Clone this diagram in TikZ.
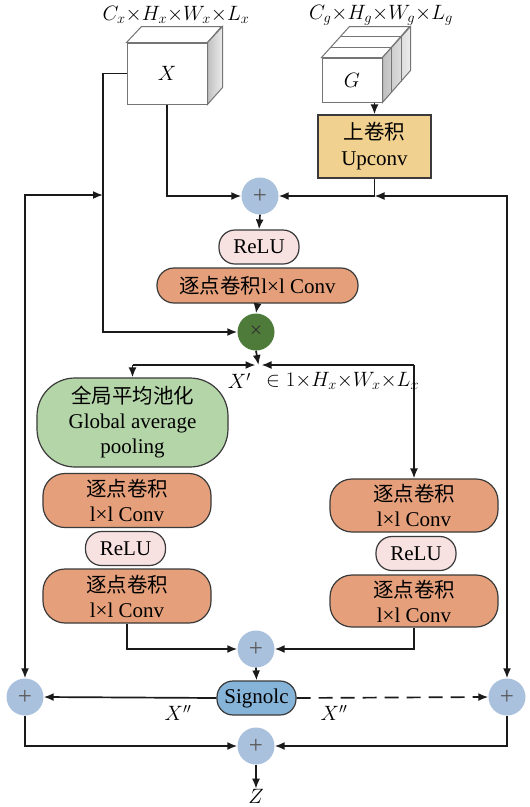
\documentclass[tikz,border=0pt]{standalone}
\usepackage{fontspec}
\setmainfont{Liberation Serif}
\newfontfamily\cjk{Noto Sans CJK SC}
\usetikzlibrary{arrows.meta}

\definecolor{plusc}{HTML}{A9C1DD}
\definecolor{mulc}{HTML}{4E7B3A}
\definecolor{reluc}{HTML}{F7E2E1}
\definecolor{convc}{HTML}{E5A07B}
\definecolor{gapc}{HTML}{B4D5A8}
\definecolor{upc}{HTML}{F1D18F}
\definecolor{sigc}{HTML}{86B3D8}
\definecolor{linec}{HTML}{1A1A1A}
\definecolor{edgec}{HTML}{3A3A3A}

\newcommand{\zh}[1]{{\cjk\fontsize{20.5}{24}\selectfont #1}}

\begin{document}
\begin{tikzpicture}[x=1pt,y=-1pt,
  every node/.style={font=\fontsize{21}{25}\selectfont, inner sep=0pt},
  flow/.style={draw=linec, line width=1.7pt, -{Latex[length=10pt,width=8pt]}},
  plain/.style={draw=linec, line width=1.7pt},
  opcircle/.style={circle, fill=plusc, minimum size=37pt, text=black!65, font=\fontsize{25}{25}\selectfont},
  pill/.style={draw=edgec, line width=1.2pt, align=center, rounded corners=#1},
  pill/.default=16pt,
  relubox/.style={pill=16pt, fill=reluc, minimum width=80pt, minimum height=34pt},
  convbox/.style={pill=22pt, fill=convc, minimum width=168pt, minimum height=54pt},
  face/.style={draw=edgec!70, line width=1pt, fill=white},
  sideface/.style={draw=edgec!70, line width=1pt, left color=gray!50, right color=gray!15},
  lab/.style={font=\fontsize{21}{25}\selectfont}
]
\fill[white] (0,0) rectangle (530,807);
\useasboundingbox (0,0) rectangle (530,807);

% ---- input cube X ----
\node[face, minimum width=80pt, minimum height=61pt] (xf) at (167,73.5) {$X$};
\draw[face] (xf.north west) -- ++(15,-16) -- ++(80,0) -- (xf.north east) -- cycle;
\draw[sideface] (xf.north east) -- ++(15,-16) -- ++(0,61) -- (xf.south east) -- cycle;
\node[lab] (xdim) at (176,15) {$C_x{\times}H_x{\times}W_x{\times}L_x$};

% ---- gating cube G (three slices) ----
\node[face, minimum width=60pt, minimum height=44pt] (gf) at (352,80) {$G$};
\draw[face] (gf.north west) -- ++(28,-31) -- ++(60,0) -- (gf.north east) -- cycle;
\draw[sideface] (gf.north east) -- ++(28,-31) -- ++(0,44) -- (gf.south east) -- cycle;
\foreach \k in {1,2}{
  \draw[edgec!70, line width=1pt] ([shift={(9.33*\k,-10.33*\k)}]gf.north west)
        -- ([shift={(9.33*\k,-10.33*\k)}]gf.north east)
        -- ([shift={(9.33*\k,-10.33*\k)}]gf.south east);
}
\node[lab] (gdim) at (381,15) {$C_g{\times}H_g{\times}W_g{\times}L_g$};

% ---- upsampling convolution ----
\node[draw=edgec, line width=1.2pt, fill=upc, minimum width=113pt, minimum height=63pt, align=center]
  (up) at (374.5,146.5) {\zh{上卷积}\\[1pt]Upconv};

% ---- attention gate ----
\node[opcircle] (p1) at (260,196) {+};
\node[relubox] (relu1) at (259,247) {ReLU};
\node[pill=17pt, fill=convc, minimum width=201pt, minimum height=35pt] (conv1) at (257.5,285.5) {\zh{逐点卷积}l×l Conv};
\node[circle, fill=mulc, minimum size=37pt, text=black!80, font=\fontsize{22}{22}\selectfont] (mul) at (256,332) {×};
\coordinate (jn) at (258.5,365);

\coordinate (xbus) at (103,195);
\coordinate (upj) at (up.south |- p1);

\draw[plain] (xf.west) -| (xbus);
\draw[flow] (xbus) |- (mul.west);
\draw[flow] (xf.south) |- (p1.west);
\draw[flow] (up.south) |- (p1.east);
\draw[flow] (gf.south -| up.north) -- (up.north);
\draw[flow] (p1.south) -- (relu1.north);
\draw[flow] (conv1.south) -- (mul.north);
\draw[flow] (mul.south) -- (jn);

% ---- branches ----
\node[pill=38pt, fill=gapc, minimum width=191pt, minimum height=89pt, align=center]
  (gap) at (132.5,422.5) {\zh{全局平均池化}\\Global average\\pooling};
\node[convbox] (lc1) at (127,500.5) {\zh{逐点卷积}\\l×l Conv};
\node[relubox] (lr) at (125.5,548.5) {ReLU};
\node[convbox] (lc2) at (127,596) {\zh{逐点卷积}\\l×l Conv};

\node[convbox, minimum height=53pt] (rc1) at (414,505.5) {\zh{逐点卷积}\\l×l Conv};
\node[relubox] (rr) at (416,553.5) {ReLU};
\node[convbox, minimum height=52pt] (rc2) at (414,601) {\zh{逐点卷积}\\l×l Conv};

\coordinate (jl) at (gap.north |- jn);
\coordinate (jr) at (rc1.north |- jn);
\draw[flow] (jl) -- ([xshift=-3pt]jn);
\draw[flow] (jl) -- (gap.north);
\draw[flow] (jr) -- ([xshift=3pt]jn);
\draw[flow] (jr) -- (rc1.north);

\node[lab, anchor=east] (xp) at (251,381) {$X'$};
\node[lab, anchor=west] (xpdim) at (266,381) {$\in 1{\times}H_x{\times}W_x{\times}L_x$};

% ---- fusion ----
\node[opcircle] (p2) at (256,649) {+};
\node[pill=16pt, fill=sigc, minimum width=79pt, minimum height=34pt] (sig) at (256.5,698) {Signolc};
\node[opcircle] (pl) at (25,697) {+};
\node[opcircle] (pr) at (507,697) {+};
\node[opcircle] (pb) at (256,746) {+};
\node[lab] (z) at (256,796) {$Z$};

\draw[flow] (lc2.south) |- (p2.west);
\draw[flow] (rc2.south) |- (p2.east);
\draw[flow] (p2.south) -- (sig.north);
\draw[flow] (sig.west) -- (pl.east);
\draw[flow, dash pattern=on 14pt off 8pt] (sig.east) -- (pr.west);
\draw[flow] (pl.south) |- (pb.west);
\draw[flow] (pr.south) |- (pb.east);
\draw[flow] (pb.south) -- (z.north);

\node[lab] (xpp1) at (178,713) {$X''$};
\node[lab] (xpp2) at (334,713) {$X''$};

% ---- skip buses ----
\draw[draw=linec, line width=1.7pt, {Latex[length=10pt,width=8pt]}-{Latex[length=10pt,width=8pt]}] (xbus) -| (pl.north);
\draw[draw=linec, line width=1.7pt, {Latex[length=10pt,width=8pt]}-{Latex[length=10pt,width=8pt]}] (upj) -| (pr.north);
\end{tikzpicture}
\end{document}
